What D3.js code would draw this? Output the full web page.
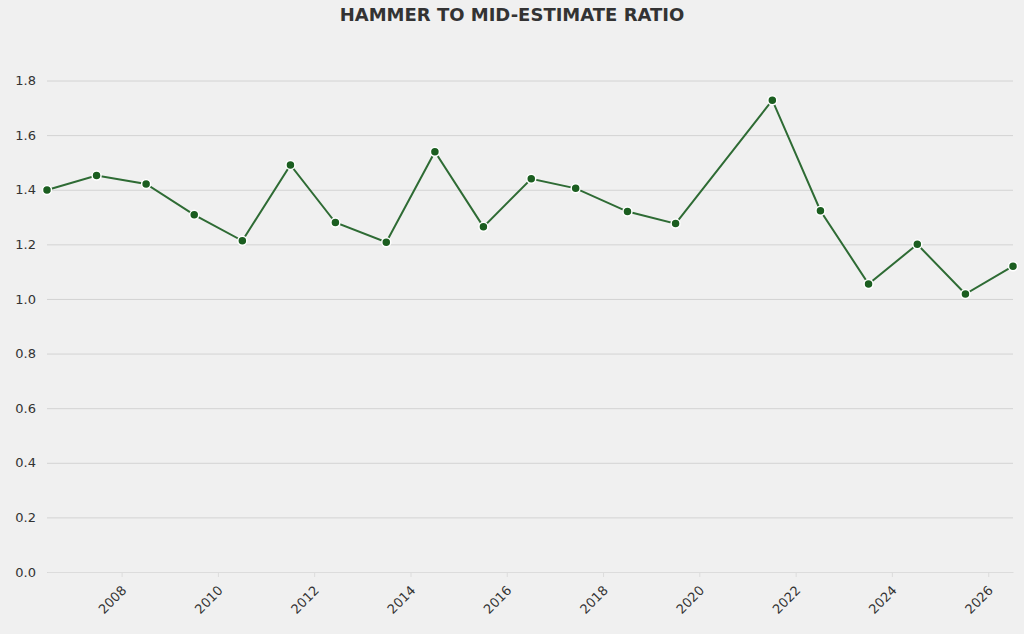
<!DOCTYPE html>
<html>
<head>
<meta charset="utf-8">
<script src="https://cdn.jsdelivr.net/npm/d3@7"></script>
<style>
    body { margin: 0; background: #f0f0f0; }
    svg { display: block; font-family: "DejaVu Sans", sans-serif; }
</style>
</head>
<body>
<svg id="container"></svg>
<script>
const saleDates = [
    '2006-06-14', '2007-06-25', '2008-07-05', '2009-07-05', '2010-07-05',
    '2011-07-05', '2012-06-10', '2013-07-01', '2014-07-05', '2015-07-08',
    '2016-07-05', '2017-06-07', '2018-07-05', '2019-07-05', '2021-07-08',
    '2022-07-08', '2023-07-08', '2024-07-12', '2025-07-12', '2026-07-08'
];
const ratios = [
    1.399, 1.452, 1.421, 1.308, 1.213,
    1.491, 1.280, 1.208, 1.539, 1.264,
    1.440, 1.405, 1.320, 1.276, 1.728,
    1.323, 1.055, 1.200, 1.018, 1.120
];
const yTicks = [0, 0.2, 0.4, 0.6, 0.8, 1.0, 1.2, 1.4, 1.6, 1.8];

const width = 1024;
const height = 634;
const margin = {top: 53, right: 11, bottom: 62, left: 47};

const parse = d3.timeParse('%Y-%m-%d');
const data = saleDates.map((d, i) => ({date: parse(d), value: ratios[i]}));

const svg = d3.select('#container')
    .attr('width', width)
    .attr('height', height);

svg.append('rect')
    .attr('width', width)
    .attr('height', height)
    .attr('fill', '#f0f0f0');

const x = d3.scaleTime()
    .domain(d3.extent(data, d => d.date))
    .range([margin.left, width - margin.right]);

const y = d3.scaleLinear()
    .domain([0, d3.max(ratios) * 1.1])
    .range([height - margin.bottom, margin.top]);

// grid + y labels
const yAxis = svg.append('g')
    .attr('transform', 'translate(' + margin.left + ',0)')
    .call(d3.axisLeft(y)
        .tickValues(yTicks)
        .tickFormat(d3.format('.1f'))
        .tickSize(-(width - margin.left - margin.right))
        .tickPadding(11));
yAxis.select('.domain').remove();
yAxis.selectAll('.tick line')
    .attr('stroke', '#d3d3d3')
    .attr('stroke-width', 1);
yAxis.selectAll('.tick text')
    .attr('fill', '#333')
    .attr('font-size', 13)
    .attr('font-family', '"DejaVu Sans", sans-serif');

const xAxis = svg.append('g')
    .attr('transform', 'translate(0,' + (height - margin.bottom) + ')')
    .call(d3.axisBottom(x)
        .ticks(d3.timeYear.every(2))
        .tickFormat(d3.timeFormat('%Y'))
        .tickSize(5)
        .tickSizeOuter(0));
xAxis.select('.domain').attr('stroke', '#dcdcdc');
xAxis.selectAll('.tick line').attr('stroke', '#dcdcdc');
xAxis.selectAll('.tick text')
    .attr('fill', '#333')
    .attr('font-size', 13)
    .attr('font-family', '"DejaVu Sans", sans-serif')
    .attr('text-anchor', 'end')
    .attr('x', 0)
    .attr('y', 0)
    .attr('dy', '0.35em')
    .attr('transform', 'translate(2,16) rotate(-45)');

const line = d3.line()
    .x(d => x(d.date))
    .y(d => y(d.value));

svg.append('path')
    .datum(data)
    .attr('fill', 'none')
    .attr('stroke', '#2e6b34')
    .attr('stroke-width', 2)
    .attr('d', line);

svg.selectAll('circle')
    .data(data)
    .enter()
    .append('circle')
    .attr('cx', d => x(d.date))
    .attr('cy', d => y(d.value))
    .attr('r', 4.5)
    .attr('fill', '#1b5e20')
    .attr('stroke', '#fff')
    .attr('stroke-width', 1.5);

svg.append('text')
    .attr('x', width / 2)
    .attr('y', 21)
    .attr('text-anchor', 'middle')
    .attr('font-size', 18)
    .attr('font-weight', 'bold')
    .attr('fill', '#333')
    .text('HAMMER TO MID-ESTIMATE RATIO');
</script>
</body>
</html>
